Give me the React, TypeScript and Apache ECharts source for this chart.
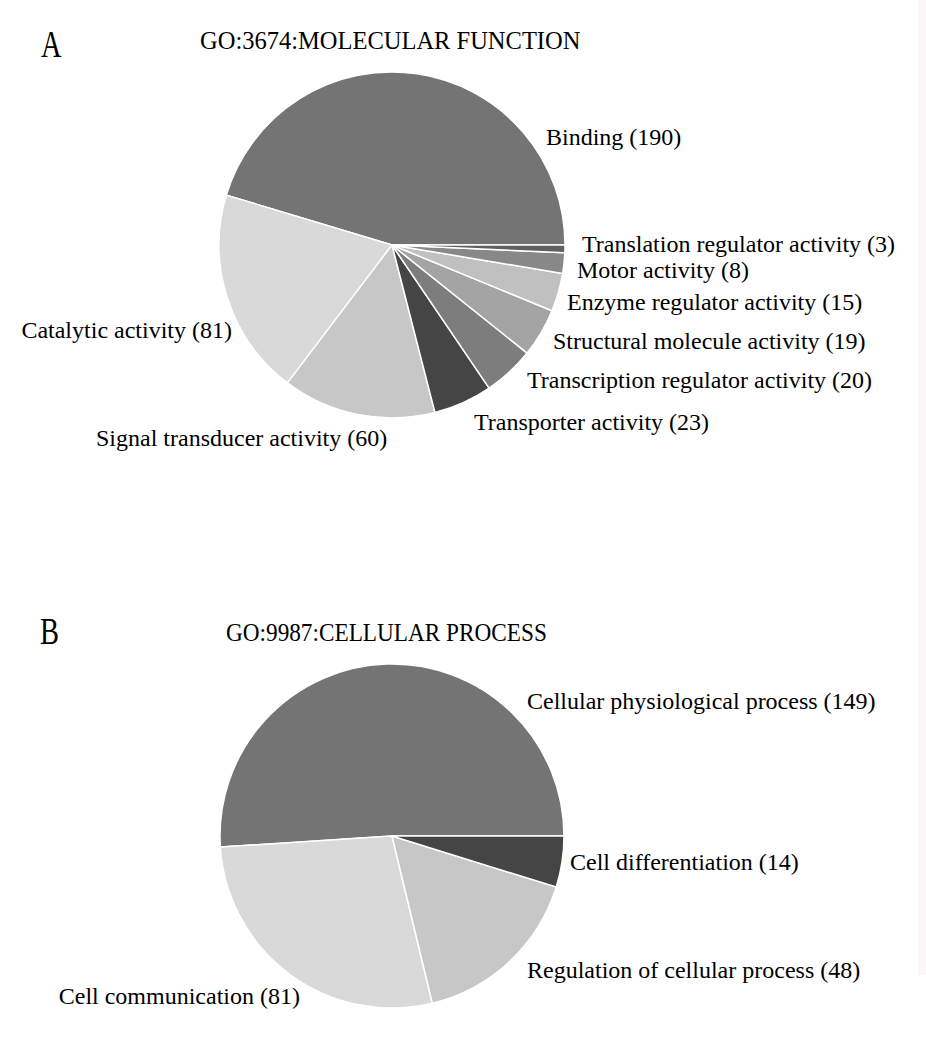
import React, { useEffect, useRef } from "react";
import * as echarts from "echarts";

const FONT = "'Liberation Serif', 'Times New Roman', serif";

// Panel A: GO:3674 Molecular function
const mfTitle = "GO:3674:MOLECULAR FUNCTION";
const mfNames = [
  "Binding",
  "Catalytic activity",
  "Signal transducer activity",
  "Transporter activity",
  "Transcription regulator activity",
  "Structural molecule activity",
  "Enzyme regulator activity",
  "Motor activity",
  "Translation regulator activity",
];
const mfValues = [190, 81, 60, 23, 20, 19, 15, 8, 3];
const mfColors = ["#747474", "#d9d9d9", "#c7c7c7", "#454545", "#7d7d7d", "#a4a4a4", "#c0c0c0", "#888888", "#5f5f5f"];
// label anchor [x, y, align]
const mfLabelPos: [number, number, string][] = [
  [546, 137, "left"],
  [232, 330, "right"],
  [96, 438, "left"],
  [474, 422, "left"],
  [527, 380, "left"],
  [553, 341, "left"],
  [567, 302, "left"],
  [577, 270, "left"],
  [582, 244, "left"],
];

// Panel B: GO:9987 Cellular process
const cpTitle = "GO:9987:CELLULAR PROCESS";
const cpNames = [
  "Cellular physiological process",
  "Cell communication",
  "Regulation of cellular process",
  "Cell differentiation",
];
const cpValues = [149, 81, 48, 14];
const cpColors = ["#747474", "#d9d9d9", "#c7c7c7", "#454545"];
const cpLabelPos: [number, number, string][] = [
  [527, 701, "left"],
  [300, 996, "right"],
  [527, 970, "left"],
  [570, 862, "left"],
];

export default function App() {
  const ref = useRef<HTMLDivElement>(null);
  useEffect(() => {
    if (!ref.current) return;
    const chart = echarts.init(ref.current, null, { renderer: "svg" });
    const mkSeries = (names: string[], values: number[], colors: string[], pos: [number, number, string][], center: number[], radius: number) => ({
      type: "pie",
      center,
      radius,
      startAngle: 0,
      clockwise: false,
      avoidLabelOverlap: false,
      data: names.map((n, i) => ({ name: n, value: values[i], itemStyle: { color: colors[i] } })),
      itemStyle: { borderColor: "#ffffff", borderWidth: 1.5 },
      label: {
        show: true,
        position: "outside",
        formatter: "{b} ({c})",
        color: "#000",
        fontFamily: FONT,
        fontSize: 24,
      },
      labelLine: { show: false },
      labelLayout: (p: any) => {
        const q = pos[p.dataIndex];
        return { x: q[0], y: q[1], align: q[2], verticalAlign: "middle" };
      },
      emphasis: { disabled: true },
    });
    chart.setOption({
      animation: false,
      backgroundColor: "#ffffff",
      graphic: [
        { type: "rect", shape: { x: 918, y: 0, width: 8, height: 975 }, style: { fill: "#fcf6f8" } },
        { type: "text", x: 41, y: 44, scaleX: 0.75, style: { text: "A", font: `38px ${FONT}`, fill: "#000", verticalAlign: "middle" } },
        { type: "text", x: 200, y: 40, scaleX: 0.98, style: { text: mfTitle, font: `25px ${FONT}`, fill: "#000", verticalAlign: "middle" } },
        { type: "text", x: 40, y: 631, scaleX: 0.75, style: { text: "B", font: `38px ${FONT}`, fill: "#000", verticalAlign: "middle" } },
        { type: "text", x: 226, y: 632, scaleX: 0.93, style: { text: cpTitle, font: `25px ${FONT}`, fill: "#000", verticalAlign: "middle" } },
      ],
      series: [
        mkSeries(mfNames, mfValues, mfColors, mfLabelPos, [392, 245], 173),
        mkSeries(cpNames, cpValues, cpColors, cpLabelPos, [392, 836], 172),
      ],
    });
    return () => chart.dispose();
  }, []);
  return <div ref={ref} style={{ position: "absolute", left: 0, top: 0, width: 926, height: 1050 }} />;
}
